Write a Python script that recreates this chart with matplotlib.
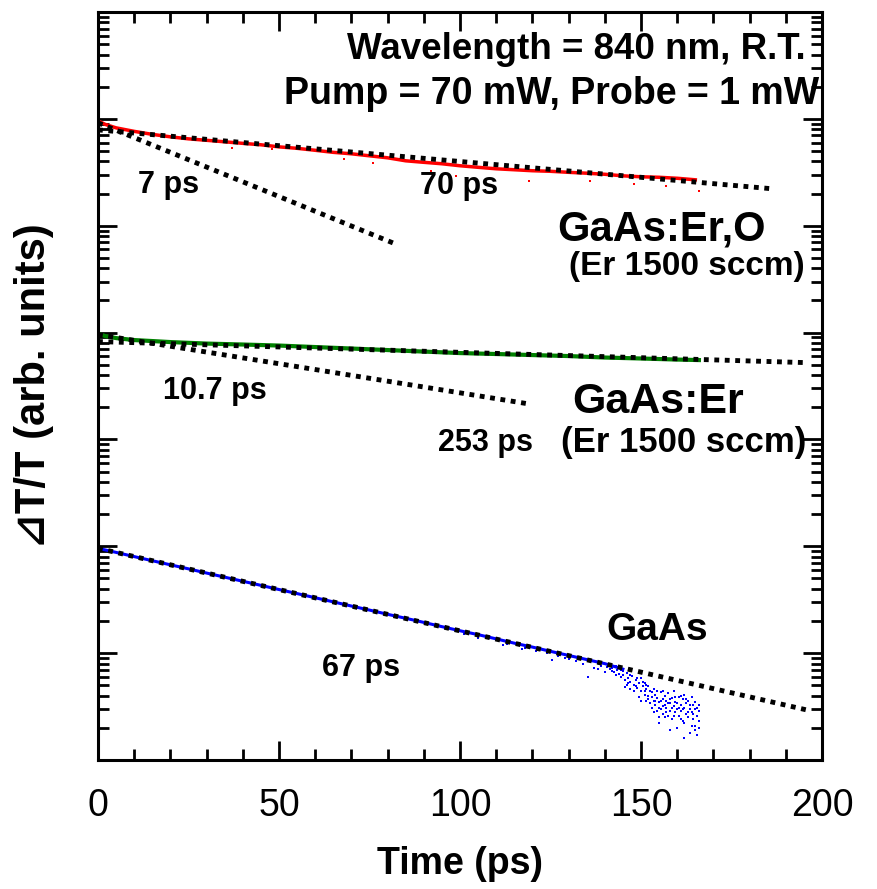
import matplotlib
matplotlib.use('Agg')
import matplotlib.pyplot as plt
from matplotlib.ticker import LogLocator, MultipleLocator, NullFormatter

plt.rcParams['font.family'] = ['Liberation Sans', 'DejaVu Sans']

# GaAs:Er,O trace (time in ps, signal in arb. units)
erO_t = [0, 2, 5, 10, 15, 20, 25, 30, 35, 40, 45, 50, 55, 60, 65, 70, 75, 80,
         85, 90, 95, 100, 105, 110, 115, 120, 125, 130, 135, 140, 145, 150,
         155, 160, 165]
erO_v = [9.58e5, 8.88e5, 8.24e5, 7.64e5, 7.16e5, 6.79e5, 6.50e5, 6.30e5,
         6.10e5, 5.90e5, 5.72e5, 5.47e5, 5.30e5, 5.08e5, 4.86e5, 4.71e5,
         4.51e5, 4.32e5, 4.05e5, 3.92e5, 3.80e5, 3.64e5, 3.52e5, 3.41e5,
         3.34e5, 3.27e5, 3.23e5, 3.16e5, 3.10e5, 3.03e5, 2.93e5, 2.87e5,
         2.84e5, 2.78e5, 2.69e5]
erO_spike_t = [37, 48, 68, 76, 92, 99, 119, 136, 148, 157, 166]
erO_spike_v = [5.39e5, 5.24e5, 4.23e5, 3.88e5, 3.27e5, 2.93e5, 2.63e5,
               2.63e5, 2.47e5, 2.36e5, 2.12e5]

# GaAs:Er trace
er_t = [0, 2, 5, 10, 15, 20, 30, 40, 50, 60, 70, 80, 90, 100, 110, 120, 130,
        140, 150, 160, 166]
er_v = [9.79e3, 9.28e3, 8.88e3, 8.51e3, 8.33e3, 8.15e3, 7.89e3, 7.73e3,
        7.56e3, 7.32e3, 7.09e3, 6.86e3, 6.64e3, 6.43e3, 6.30e3, 6.16e3,
        6.03e3, 5.84e3, 5.72e3, 5.59e3, 5.53e3]

# GaAs trace
gaas_t = [0, 5, 10, 15, 20, 25, 30, 35, 40, 45, 50, 55, 60, 65, 70, 75, 80,
          85, 90, 95, 100, 105, 110, 115, 120, 125, 130, 135, 140, 145]
gaas_v = [95.8, 87.7, 80.1, 73.3, 67.1, 61.5, 56.2, 51.4, 47.1, 43.1, 39.4,
          36.1, 33.0, 30.2, 27.6, 25.3, 23.1, 21.2, 19.4, 17.7, 16.2, 14.9,
          13.6, 12.4, 11.4, 10.4, 9.52, 8.71, 7.98, 7.09]
# noisy points of the GaAs trace
gaas_noise_t = [101, 105, 108, 112, 113, 117, 118, 121, 124, 125.3, 127, 129,
                130, 132, 134, 135.4, 137, 138, 139, 140, 145.6,
                140.5, 141, 141.5, 142, 142, 142.5, 143, 143, 143.5, 144, 144,
                144.5, 144.5, 145, 145, 145.5, 146, 146, 146.5, 146.5, 147,
                147, 147, 147.5, 148, 148, 148.5, 148.5, 149, 149, 149.5,
                149.5, 150, 150, 150, 150.5, 150.5, 151, 151, 151, 151.5,
                151.5, 151.5, 152, 152, 152, 152.5, 152.5, 153, 153, 153,
                153.5, 153.5, 153.5, 154, 154, 154, 154.5, 154.5, 154.5, 155,
                155, 155, 155, 155.5, 155.5, 155.5, 156, 156, 156, 156, 156.5,
                156.5, 156.5, 157, 157, 157, 157.5, 157.5, 157.5, 158, 158,
                158, 158, 158.5, 158.5, 158.5, 159, 159, 159, 159.5, 159.5,
                159.5, 160, 160, 160, 160.5, 160.5, 160.5, 161, 161, 161, 161,
                161.5, 161.5, 161.5, 162, 162, 162, 162, 162.5, 162.5, 162.5,
                163, 163, 163, 163.5, 163.5, 163.5, 164, 164, 164, 164.5,
                164.5, 164.5, 165, 165, 165, 165, 165.5, 165.5, 165.5, 166,
                166, 166, 166]
gaas_noise_v = [15.1, 13.8, 13.9, 11.9, 12.2, 11.0, 11.1, 10.4, 10.0, 8.6, 9.4,
                9.0, 8.8, 8.5, 8.0, 6.0, 7.2, 7.1, 7.6, 6.6, 4.8,
                7.4, 7.8, 7.1, 7.2, 6.8, 6.6, 7.5, 6.3, 6.9, 6.4, 7.3,
                7.0, 6.0, 6.2, 6.8, 5.6, 6.5, 5.0, 5.9, 5.3, 5.4,
                6.3, 4.6, 6.1, 5.0, 4.4, 5.6, 4.9, 4.7, 5.8, 5.3,
                3.9, 4.4, 5.8, 3.6, 4.9, 5.4, 4.1, 5.2, 4.4, 3.6,
                4.6, 5.0, 4.9, 4.0, 3.7, 3.4, 4.4, 3.9, 3.1, 4.3,
                4.6, 3.6, 2.8, 3.3, 4.1, 3.6, 2.9, 3.8, 4.4, 3.5,
                2.2, 3.1, 2.5, 4.3, 3.0, 3.6, 3.7, 2.7, 3.2, 4.4, 3.3,
                4.0, 2.5, 3.1, 3.6, 2.8, 2.6, 4.2, 3.4, 3.4, 2.9,
                3.7, 1.9, 3.8, 2.4, 3.1, 3.2, 4.4, 2.6, 2.8, 3.5,
                3.9, 3.0, 2.0, 3.4, 3.9, 2.6, 3.1, 3.3, 2.9, 2.4, 4.0,
                3.7, 2.3, 3.0, 3.1, 4.1, 2.2, 1.6, 2.7, 3.4, 3.7,
                2.5, 3.6, 2.8, 1.8, 3.0, 3.3, 2.8, 3.9, 2.1, 2.4,
                3.3, 2.7, 2.1, 3.0, 3.5, 1.9, 2.6, 1.7, 3.1, 2.9,
                2.3, 2.0, 3.3]

# exponential fits (straight on log scale): start/end time and value
fit_7_t, fit_7_v = [0, 82], [9.18e5, 6.79e4]
fit_70_t, fit_70_v = [0, 186], [7.89e5, 2.22e5]
fit_107_t, fit_107_v = [0, 119], [9.58e3, 2.15e3]
fit_253_t, fit_253_v = [0, 195], [8.24e3, 5.24e3]
fit_67_t, fit_67_v = [0, 196], [95.8, 2.93]

fig = plt.figure(figsize=(8.77, 8.89), dpi=100)
ax = fig.add_axes([0.1117, 0.1451, 0.8256, 0.8414])

ax.plot(erO_t, erO_v, color='red', lw=2.5)
ax.plot(erO_spike_t, erO_spike_v, ls='none', marker='s', ms=1.8, mew=0,
        color='red')
ax.plot(er_t, er_v, color='green', lw=3)
ax.plot(gaas_t, gaas_v, color='blue', lw=2.2)
ax.plot(gaas_noise_t, gaas_noise_v, ls='none', marker='s', ms=1.8, mew=0,
        color='blue')

dots = dict(color='black', lw=3.5, ls=(0, (1, 1.15)), dash_capstyle='butt')
for ft, fv in [(fit_7_t, fit_7_v), (fit_70_t, fit_70_v), (fit_107_t, fit_107_v),
               (fit_253_t, fit_253_v), (fit_67_t, fit_67_v)]:
    ax.plot(ft, fv, **dots)

ax.set_yscale('log')
ax.set_xlim(0, 200)
ax.set_ylim(1, 1e7)
ax.xaxis.set_major_locator(MultipleLocator(50))
ax.xaxis.set_minor_locator(MultipleLocator(10))
ax.yaxis.set_major_locator(LogLocator(base=10, numticks=20))
ax.yaxis.set_minor_locator(LogLocator(base=10, subs=range(2, 10), numticks=20))
ax.yaxis.set_major_formatter(NullFormatter())
ax.yaxis.set_minor_formatter(NullFormatter())
ax.tick_params(which='both', direction='in', top=True, right=True, width=2)
ax.tick_params(which='major', length=14)
ax.tick_params(which='minor', length=8)
ax.tick_params(axis='x', which='major', pad=20, labelsize=27)
for s in ax.spines.values():
    s.set_linewidth(2.2)

ax.set_xlabel('Time (ps)', fontsize=27, fontweight='bold', labelpad=16)
ax.set_ylabel('\u22bfT/T (arb. units)', fontsize=30, fontweight='bold',
              labelpad=28)

bold = dict(fontweight='bold', transform=ax.transData)
ax.text(195.5, 10**6.65, 'Wavelength = 840 nm, R.T.', fontsize=26.5,
        ha='right', va='center', **bold)
ax.text(199.3, 10**6.23, 'Pump = 70 mW, Probe = 1 mW', fontsize=27,
        ha='right', va='center', **bold)
ax.text(11, 10**5.38, '7 ps', fontsize=22, ha='left', va='center', **bold)
ax.text(89, 10**5.37, '70 ps', fontsize=22, ha='left', va='center', **bold)
ax.text(127, 10**4.96, 'GaAs:Er,O', fontsize=30, ha='left', va='center', **bold)
ax.text(130, 10**4.62, '(Er 1500 sccm)', fontsize=24, ha='left', va='center',
        **bold)
ax.text(18, 10**3.45, '10.7 ps', fontsize=22, ha='left', va='center', **bold)
ax.text(131, 10**3.35, 'GaAs:Er', fontsize=31, ha='left', va='center', **bold)
ax.text(94, 10**2.97, '253 ps', fontsize=22, ha='left', va='center', **bold)
ax.text(128, 10**2.97, '(Er 1500 sccm)', fontsize=25, ha='left', va='center',
        **bold)
ax.text(140.5, 10**1.22, 'GaAs', fontsize=28, ha='left', va='center', **bold)
ax.text(62, 10**0.86, '67 ps', fontsize=22, ha='left', va='center', **bold)

fig.savefig('out.png', dpi=100)
